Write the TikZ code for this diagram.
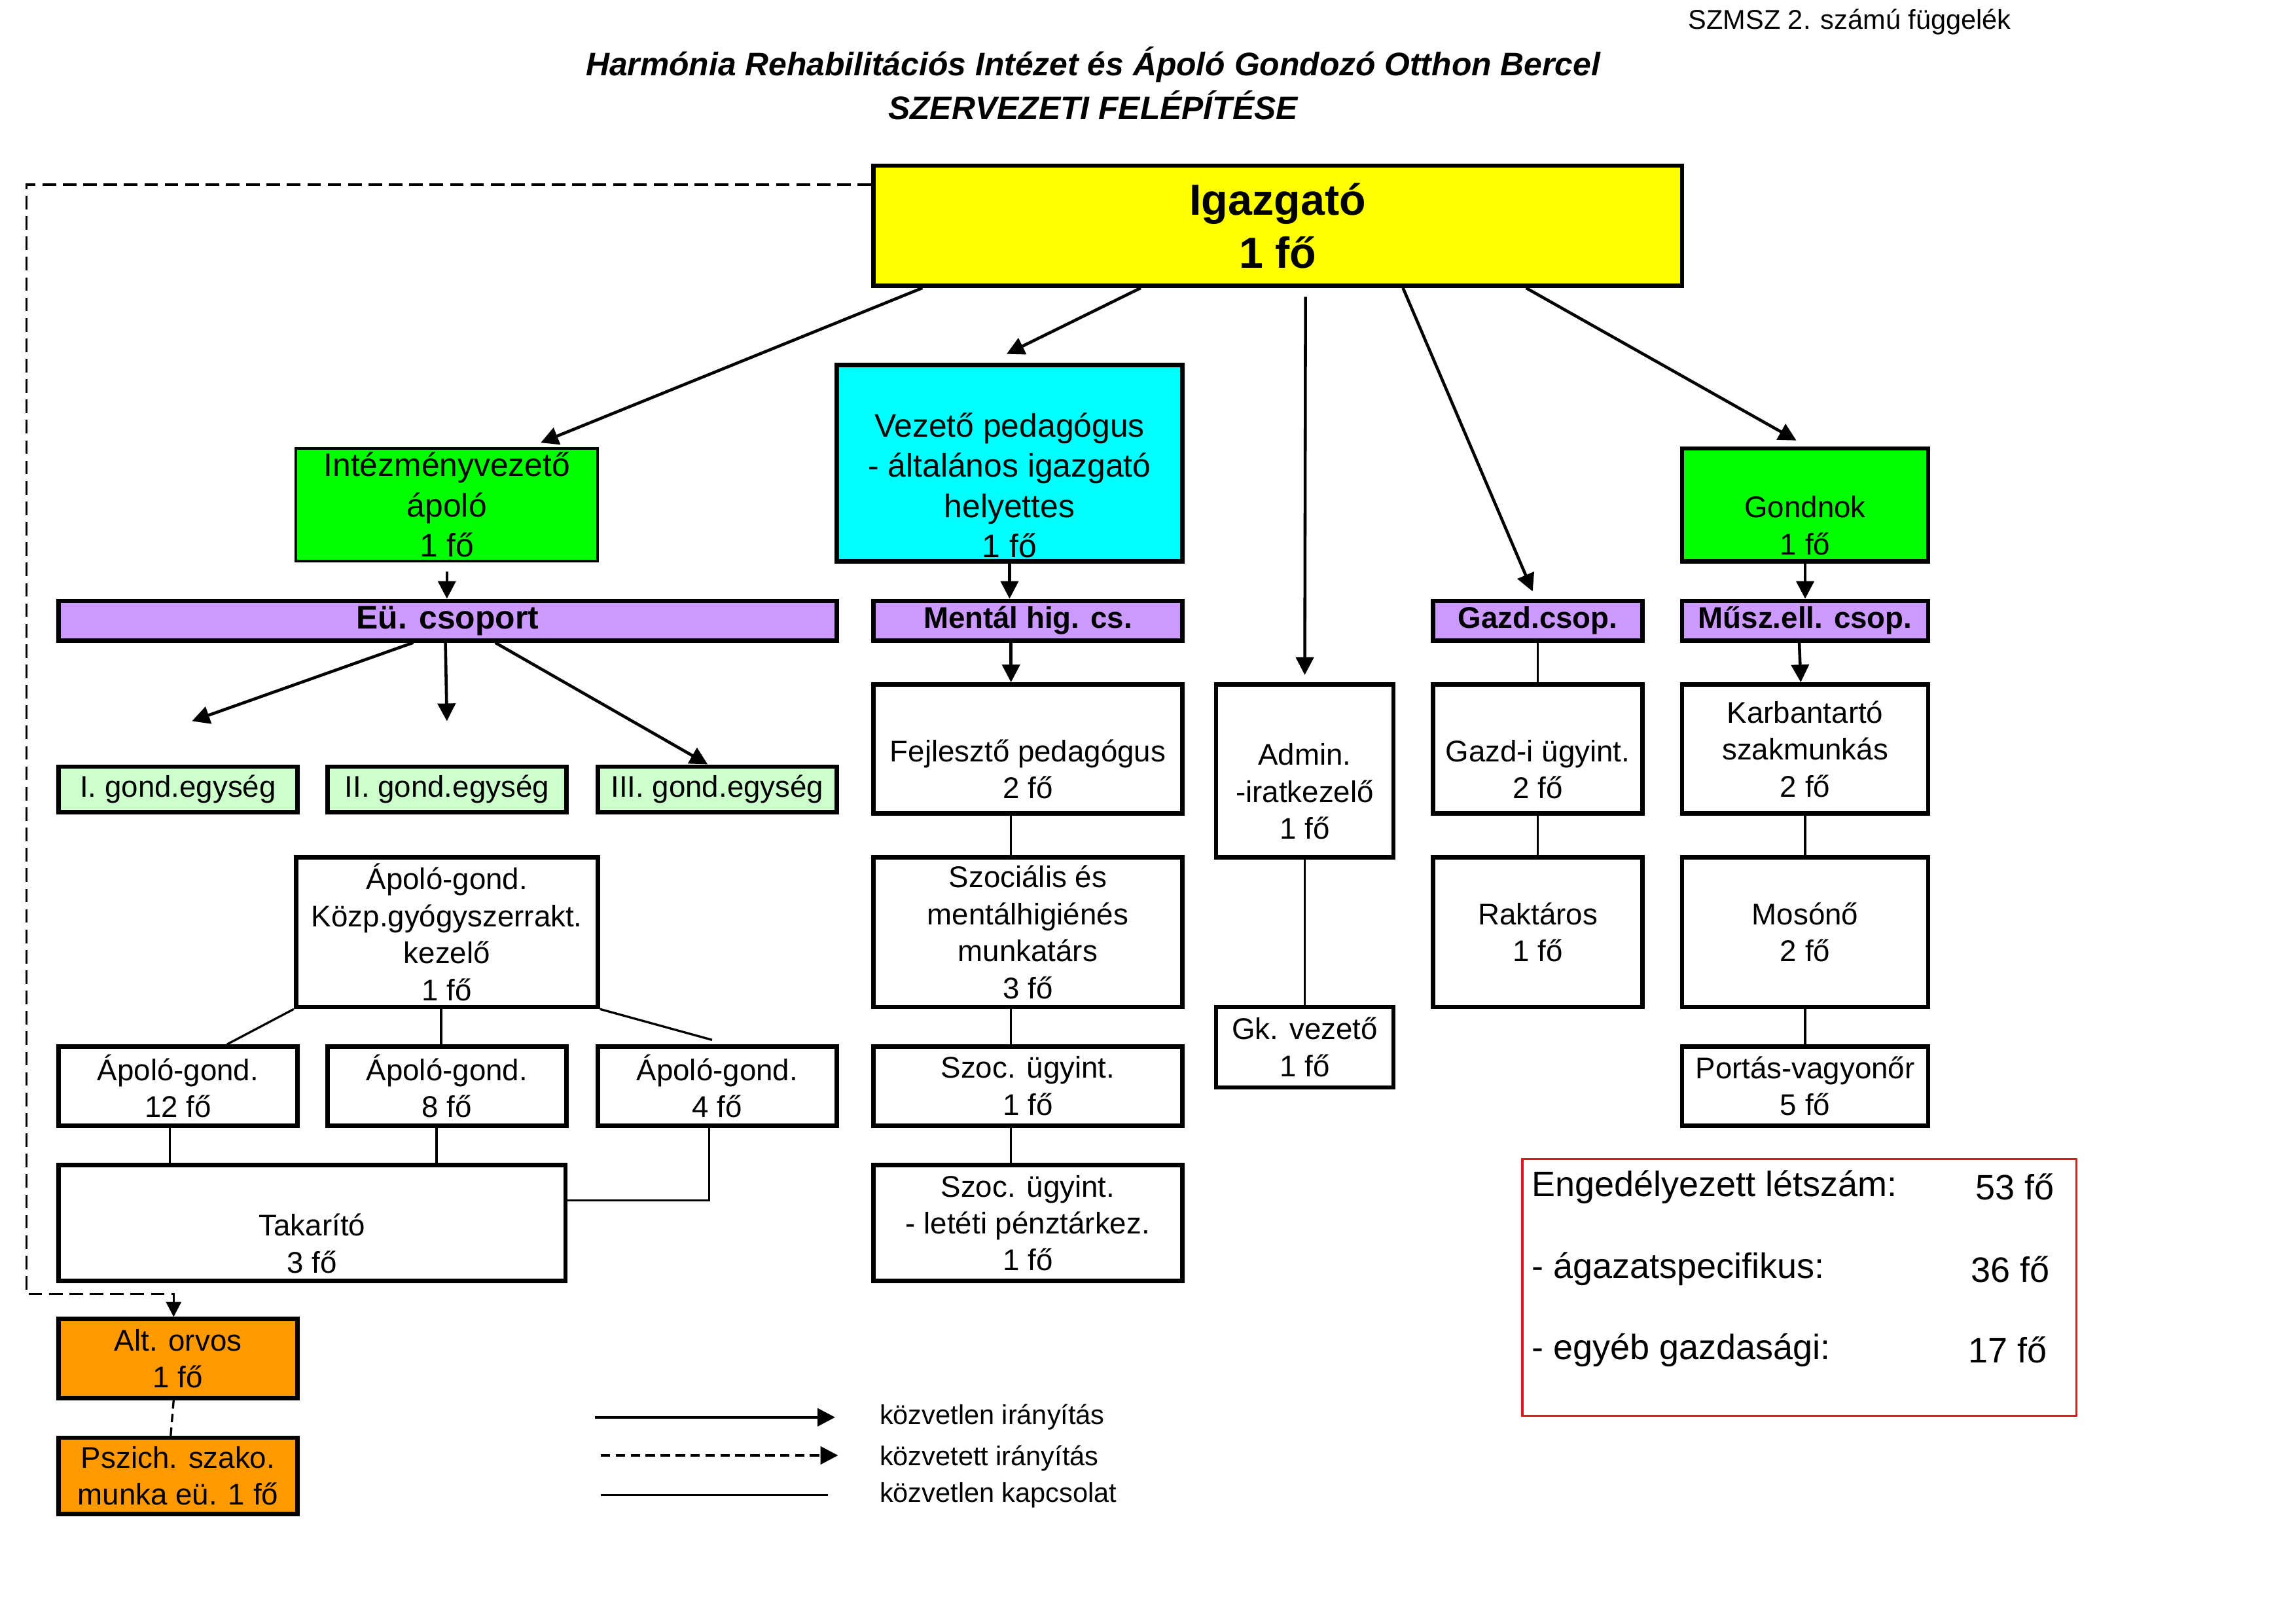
\documentclass[tikz,border=0pt]{standalone}
\usepackage{fontspec}
\setmainfont{Liberation Sans}
\usetikzlibrary{arrows.meta}

\definecolor{chiefyellow}{HTML}{FFFF00}
\definecolor{leadgreen}{HTML}{00FF00}
\definecolor{deputycyan}{HTML}{00FFFF}
\definecolor{groupviolet}{HTML}{CC99FF}
\definecolor{unitgreen}{HTML}{CCFFCC}
\definecolor{doctororange}{HTML}{FF9900}
\definecolor{limitred}{HTML}{E0161E}

\newcommand{\orgunit}{0.5393pt}
\newcommand{\boxfont}{\fontsize{11}{13.6}\selectfont}
\newcommand{\bigboxfont}{\fontsize{12}{14.8}\selectfont}

\tikzset{dims/.style 2 args={minimum width=#1*\orgunit, minimum height=#2*\orgunit}}
\tikzstyle{post}=[draw, line width=1.6pt, inner sep=0pt, align=center, font=\boxfont]
\tikzstyle{group}=[post, fill=groupviolet, font=\bfseries\boxfont]
\tikzstyle{arrow}=[draw, line width=1.1pt, -{Triangle[length=6.5pt,width=6.5pt]}]
\tikzstyle{link}=[draw, line width=0.8pt]
\tikzstyle{indirect}=[draw, line width=0.8pt, dash pattern=on 5pt off 2.5pt, -{Triangle[length=5.5pt,width=5.5pt]}]
\tikzstyle{legend}=[anchor=west, inner sep=0pt, font=\fontsize{10}{12}\selectfont]
\tikzstyle{count}=[anchor=west, inner sep=0pt, font=\fontsize{13}{15}\selectfont]

\begin{document}
\begin{tikzpicture}[x=\orgunit, y=-\orgunit]
    \useasboundingbox (0,0) rectangle (1567,1107);
    % Header
    \node[legend] (appendix) at (1152,15) {SZMSZ 2. számú függelék};
    \node[font=\bfseries\itshape\fontsize{12}{14}\selectfont] (title) at (746,44) {Harmónia Rehabilitációs Intézet és Ápoló Gondozó Otthon Bercel};
    \node[font=\bfseries\itshape\fontsize{12}{14}\selectfont] (subtitle) at (746,72) {SZERVEZETI FELÉPÍTÉSE};

    % First we draw the leaders
    \node[post, dims={552}{82}, fill=chiefyellow, font=\bfseries\fontsize{16}{19.4}\selectfont] (igazgato) at (872,154) {Igazgató\\1 fő};
    \node[post, dims={206}{77}, fill=leadgreen, line width=1pt, font=\bigboxfont] (intvez) at (305,344.5) {Intézményvezető\\ápoló\\1 fő};
    \node[post, dims={236}{134}, fill=deputycyan, font=\bigboxfont] (vezped) at (689,316) {\strut\\Vezető pedagógus\\- általános igazgató\\helyettes\\1 fő};
    \node[post, dims={168}{77}, fill=leadgreen] (gondnok) at (1232,344.5) {\strut\\Gondnok\\1 fő};

    % The groups
    \node[group, dims={531}{27}, font=\bfseries\bigboxfont] (eu) at (305.5,423.5) {Eü. csoport};
    \foreach \pos/\name/\boxw/\lbl in {{(701.5,423.5)/mental/211/Mentál hig. cs.}, {(1049.5,423.5)/gazdcs/143/Gazd.csop.}, {(1232,423.5)/muszell/168/Műsz.ell. csop.}}
        \node[group, dims={\boxw}{27}] (\name) at \pos {\lbl};
    \foreach \pos/\name/\lbl in {{(121.5,538.5)/gond1/I. gond.egység}, {(305,538.5)/gond2/II. gond.egység}, {(489.5,538.5)/gond3/III. gond.egység}}
        \node[post, dims={163}{31}, fill=unitgreen] (\name) at \pos {\lbl};

    % The posts
    \node[post, dims={211}{88}] (fejleszto) at (701.5,511) {\strut\\Fejlesztő pedagógus\\2 fő};
    \node[post, dims={121}{118}] (admin) at (890.5,526) {\strut\\Admin.\\-iratkezelő\\1 fő};
    \node[post, dims={143}{88}] (gazdi) at (1049.5,511) {\strut\\Gazd-i ügyint.\\2 fő};
    \node[post, dims={168}{88}] (karbantarto) at (1232,511) {Karbantartó\\szakmunkás\\2 fő};
    \node[post, dims={206}{102}] (kozp) at (305,636) {Ápoló-gond.\\Közp.gyógyszerrakt.\\kezelő\\1 fő};
    \node[post, dims={211}{102}] (szocialis) at (701.5,636) {Szociális és\\mentálhigiénés\\munkatárs\\3 fő};
    \node[post, dims={143}{102}] (raktaros) at (1049.5,636) {Raktáros\\1 fő};
    \node[post, dims={168}{102}] (mosono) at (1232,636) {Mosónő\\2 fő};
    \node[post, dims={121}{55}] (gkvez) at (890.5,714.5) {Gk. vezető\\1 fő};
    \foreach \pos/\name/\heads in {{(121.5,741)/apolo12/12}, {(305,741)/apolo8/8}, {(489.5,741)/apolo4/4}}
        \node[post, dims={163}{54}] (\name) at \pos {Ápoló-gond.\\\heads{} fő};
    \node[post, dims={211}{54}] (szocugy) at (701.5,741) {Szoc. ügyint.\\1 fő};
    \node[post, dims={168}{54}] (portas) at (1232,741) {Portás-vagyonőr\\5 fő};
    \node[post, dims={346}{79}] (takarito) at (213,834.5) {\strut\\Takarító\\3 fő};
    \node[post, dims={211}{79}] (szocletet) at (701.5,834.5) {Szoc. ügyint.\\- letéti pénztárkez.\\1 fő};
    \node[post, dims={163}{54}, fill=doctororange] (altorvos) at (121.5,927) {Alt. orvos\\1 fő};
    \node[post, dims={163}{52}, fill=doctororange] (pszich) at (121.5,1007) {Pszich. szako.\\munka eü. 1 fő};

    % Headcount
    \node[draw=limitred, line width=0.8pt, dims={378}{175}, inner sep=0pt] (letszam) at (1228,878.5) {};
    \foreach \y/\name/\lbl/\cnt/\cntx in {810/all/Engedélyezett létszám:/53 fő/1348, 866/spec/- ágazatspecifikus:/36 fő/1345, 921/other/- egyéb gazdasági:/17 fő/1343}
    {
        \node[count] (\name label) at (1045,\y) {\lbl};
        \node[count] (\name count) at (\cntx,\y) {\cnt};
    }

    % Connect the leaders with arrows
    \path[arrow] ([xshift=35*\orgunit]igazgato.south west) -- ([xshift=64*\orgunit, yshift=3*\orgunit]intvez.north);
    \path[arrow] ([xshift=184*\orgunit]igazgato.south west) -- ([xshift=-2*\orgunit, yshift=6*\orgunit]vezped.north);
    \path[arrow] ([xshift=19*\orgunit, yshift=-6*\orgunit]igazgato.south) -- ([yshift=5*\orgunit]admin.north);
    \path[arrow] ([xshift=363*\orgunit]igazgato.south west) -- ([xshift=-3.5*\orgunit, yshift=5*\orgunit]gazdcs.north);
    \path[arrow] ([xshift=447*\orgunit]igazgato.south west) -- ([xshift=-6*\orgunit, yshift=4*\orgunit]gondnok.north);
    \coordinate (dashcorner) at (18,883);
    \path[indirect] ([yshift=28*\orgunit]igazgato.west) -| (dashcorner) -| ([xshift=-3*\orgunit]altorvos.north);
    \path[link, dash pattern=on 3pt off 2pt] ([xshift=-3*\orgunit]altorvos.south) -- ([xshift=-5*\orgunit]pszich.north);

    % Eü. csoport
    \path[arrow] ([yshift=-6*\orgunit]intvez.south) -- (intvez.south |- eu.north);
    \coordinate (gond1tip) at (131,492);
    \coordinate (gond2tip) at (305,492);
    \path[arrow] ([xshift=-23.5*\orgunit]eu.south) -- (gond1tip);
    \path[arrow] ([xshift=-1.5*\orgunit]eu.south) -- (gond2tip);
    \path[arrow] ([xshift=32.5*\orgunit]eu.south) -- ([xshift=-6.5*\orgunit]gond3.north);
    \path[link] (kozp.south west) -- ([xshift=33.5*\orgunit]apolo12.north);
    \path[link] ([xshift=-4*\orgunit]kozp.south) -- ([xshift=-4*\orgunit]apolo8.north);
    \path[link] (kozp.south east) -- ([xshift=-3.5*\orgunit, yshift=3*\orgunit]apolo4.north);
    \path[link] ([xshift=-5.5*\orgunit]apolo12.south) -- ([xshift=-97*\orgunit]takarito.north);
    \path[link] ([xshift=-7*\orgunit]apolo8.south) -- ([xshift=85*\orgunit]takarito.north);
    \path[link] ([xshift=-5.5*\orgunit]apolo4.south) |- ([yshift=15.5*\orgunit]takarito.east);

    % Mentál hig. cs.
    \path[arrow] (vezped.south) -- (vezped.south |- mental.north);
    \path[arrow] ([xshift=-11.5*\orgunit]mental.south) -- ([xshift=-11.5*\orgunit]fejleszto.north);
    \foreach \source/\dest in {fejleszto/szocialis, szocialis/szocugy, szocugy/szocletet}
        \path[link] ([xshift=-11.5*\orgunit]\source.south) -- ([xshift=-11.5*\orgunit]\dest.north);

    % Right hand columns
    \path[arrow] (gondnok.south) -- (muszell.north);
    \path[arrow] ([xshift=-4*\orgunit]muszell.south) -- ([xshift=-3*\orgunit]karbantarto.north);
    \foreach \source/\dest in {admin/gkvez, gazdcs/gazdi, gazdi/raktaros, karbantarto/mosono, mosono/portas}
        \path[link] (\source.south) -- (\dest.north);

    % Legend
    \node[legend] (lgdirect) at (600,967) {közvetlen irányítás};
    \node[legend] (lgindirect) at (600,995) {közvetett irányítás};
    \node[legend] (lglink) at (600,1020) {közvetlen kapcsolat};
    \coordinate (lgdirectstart) at (406,967);
    \coordinate (lgindirectstart) at (410,993);
    \coordinate (lglinkstart) at (410,1020);
    \path[arrow] (lgdirectstart) -- ([xshift=-30*\orgunit]lgdirect.west);
    \path[arrow, dash pattern=on 3.5pt off 2pt] (lgindirectstart) -- ([xshift=-28*\orgunit, yshift=2*\orgunit]lgindirect.west);
    \path[link] (lglinkstart) -- ([xshift=-35*\orgunit]lglink.west);
\end{tikzpicture}
\end{document}
